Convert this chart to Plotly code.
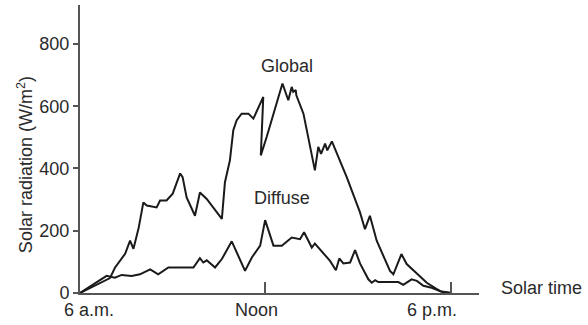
import plotly.graph_objects as go

# Solar time in hours (6 = 6 a.m., 12 = noon, 18 = 6 p.m.)
global_time = [6.0, 6.97, 7.13, 7.46, 7.62, 7.73, 7.9, 8.05, 8.16, 8.48, 8.59, 8.8, 9.0, 9.24, 9.32,
               9.45, 9.72, 9.88, 10.1, 10.59, 10.69, 10.85, 10.96, 11.07, 11.23, 11.45, 11.61, 11.93,
               11.85, 12.04, 12.55, 12.74, 12.85, 12.9, 12.98, 13.0, 13.23, 13.6, 13.71, 13.8, 13.93,
               14.0, 14.15, 14.63, 15.06, 15.22, 15.38, 15.6, 16.03, 16.14, 16.4, 16.57, 17.22,
               17.65, 17.97]
global_rad = [0, 48, 81, 126, 168, 142, 210, 291, 281, 275, 297, 297, 319, 384, 372,
              307, 248, 323, 302, 238, 356, 426, 523, 555, 576, 576, 560, 630,
              442, 501, 673, 619, 662, 646, 652, 635, 576, 394, 469, 447, 480,
              458, 487, 372, 259, 205, 248, 168, 71, 60, 125, 93, 33,
              6, 1]

diffuse_time = [6.0, 6.86, 7.13, 7.35, 7.67, 7.94, 8.27, 8.53, 8.86, 9.67, 9.88, 9.99, 10.1, 10.37,
                10.59, 10.91, 11.34, 11.56, 11.83, 11.99, 12.26, 12.53, 12.85, 13.12, 13.25, 13.5,
                13.6, 14.09, 14.28, 14.39, 14.52, 14.74, 14.9, 15.06, 15.33, 15.44, 15.55, 15.65,
                16.3, 16.46, 16.73, 16.9, 17.11, 17.38, 17.7, 17.97]
diffuse_rad = [0, 55, 49, 58, 55, 60, 76, 60, 82, 82, 112, 98, 105, 82,
               109, 166, 71, 114, 152, 234, 152, 152, 178, 173, 195, 146,
               159, 103, 73, 111, 95, 98, 138, 95, 44, 33, 41, 35,
               35, 26, 44, 39, 23, 17, 4, 0]

y_ticks = [0, 200, 400, 600, 800]
x_label_pos = [6.3, 11.7, 17.4]
x_labels = ["6 a.m.", "Noon", "6 p.m."]

FONT = "Liberation Sans, Arial, sans-serif"
TXT = "#2a2a2a"
AX = "#555555"

fig = go.Figure()
fig.add_trace(go.Scatter(x=global_time, y=global_rad, mode="lines",
                         line=dict(color="#1a1a1a", width=2), showlegend=False))
fig.add_trace(go.Scatter(x=diffuse_time, y=diffuse_rad, mode="lines",
                         line=dict(color="#1a1a1a", width=2), showlegend=False))

fig.update_layout(
    width=588, height=325,
    margin=dict(l=80, r=109, t=5, b=32),
    paper_bgcolor="white", plot_bgcolor="white",
    font=dict(family=FONT, size=18, color=TXT),
    xaxis=dict(range=[6, 18.91], showgrid=False, zeroline=False, showline=True,
               linecolor=AX, linewidth=2, tickvals=[12, 18], ticks="inside",
               ticklen=11, tickwidth=1.5, tickcolor=AX, showticklabels=False),
    yaxis=dict(range=[0, 925], showgrid=False, zeroline=False, showline=True,
               linecolor=AX, linewidth=2, tickvals=y_ticks, ticks="outside",
               ticklen=5, tickwidth=1.5, tickcolor=AX,
               tickfont=dict(family=FONT, size=18, color=TXT)),
)

for xp, lab in zip(x_label_pos, x_labels):
    fig.add_annotation(x=xp, xref="x", y=-0.06, yref="paper", text=lab, showarrow=False,
                       xanchor="center", yanchor="middle", font=dict(size=18))

fig.add_annotation(x=12.7, y=728, xref="x", yref="y", text="Global", showarrow=False,
                   font=dict(size=18))
fig.add_annotation(x=12.55, y=305, xref="x", yref="y", text="Diffuse", showarrow=False,
                   font=dict(size=18))
fig.add_annotation(x=1.05, xref="paper", y=16, yref="y", text="Solar time", showarrow=False,
                   xanchor="left", yanchor="middle", font=dict(size=18))
fig.add_annotation(x=0, xref="paper", xshift=-55, y=0.444, yref="paper",
                   text="Solar radiation (W/m<sup>2</sup>)", textangle=-90, showarrow=False,
                   xanchor="center", yanchor="middle", font=dict(size=18))

fig.write_html("out.html", config={"displayModeBar": False},
               post_script="document.body.style.margin='0';document.body.style.overflow='hidden';")
